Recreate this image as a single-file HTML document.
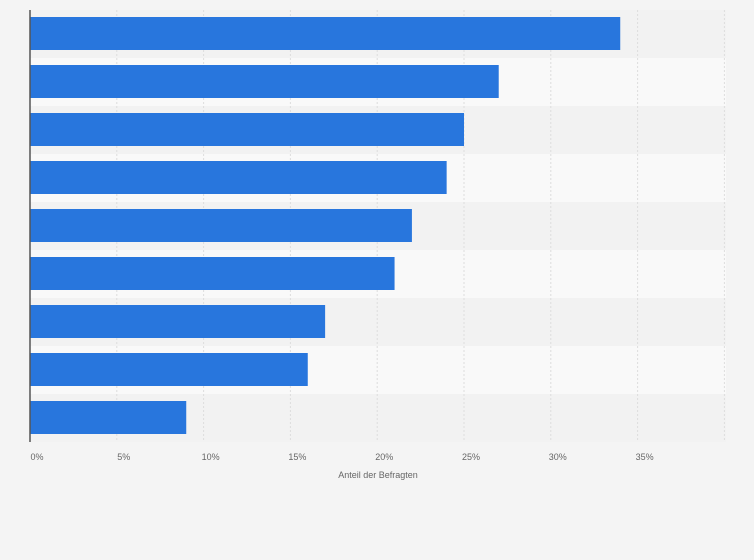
<!DOCTYPE html>
<html><head><meta charset="utf-8"><style>
html,body{margin:0;padding:0;background:#f4f4f4;}
svg{display:block;font-family:"Liberation Sans",sans-serif;}
</style></head><body>
<svg id="chart" width="754" height="560">
<rect x="0" y="0" width="754" height="560" fill="#f4f4f4"/>
<g id="bands"></g><g id="grid"></g><g id="bars"></g><g id="ticks"></g>
<line x1="30" y1="10" x2="30" y2="442" stroke="#555" stroke-width="1.5"/>
<text x="378" y="478" font-size="9" fill="#666" text-anchor="middle">Anteil der Befragten</text>
</svg>
<script>
const values = [34, 27, 25, 24, 22, 21, 17, 16, 9];
const tickValues = [0, 5, 10, 15, 20, 25, 30, 35, 40];
const tickLabels = ["0%", "5%", "10%", "15%", "20%", "25%", "30%", "35%", ""];
const NS = "http://www.w3.org/2000/svg";
const x0 = 30, pxPer = 17.36, plotTop = 10, rowH = 48;
const xs = v => x0 + v * pxPer;
function mk(tag, attrs, parent) {
  const e = document.createElementNS(NS, tag);
  for (const k in attrs) e.setAttribute(k, attrs[k]);
  document.getElementById(parent).appendChild(e);
  return e;
}
values.forEach((v, i) => {
  const band = mk("rect", {x: 30, y: plotTop + i * rowH, width: 696, height: rowH, fill: i % 2 ? "#f9f9f9" : "#f2f2f2"}, "bands");
  
  
});
tickValues.forEach((t, i) => {
  if (t > 0) {
    const g = mk("line", {x1: xs(t), x2: xs(t), y1: plotTop, y2: 442, stroke: "#ddd", "stroke-dasharray": "2,2"}, "grid");
    
    
  }
  if (tickLabels[i]) {
    const tx = mk("text", {x: xs(t) + 7, y: 460, "font-size": 9, fill: "#666", "text-anchor": "middle"}, "ticks");
    tx.textContent = tickLabels[i];
    
    
  }
});
values.forEach((v, i) => {
  const b = mk("rect", {x: x0, y: plotTop + i * rowH + 7, width: xs(v) - x0, height: 33, fill: "#2876dd"}, "bars");
  
  
});
</script>
</body></html>
